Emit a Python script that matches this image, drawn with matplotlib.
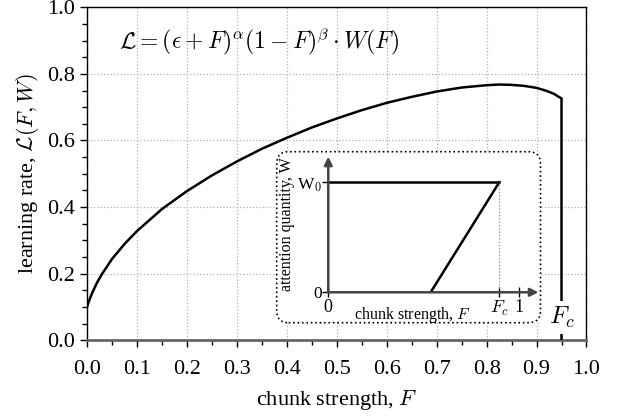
import matplotlib
matplotlib.use('Agg')
import matplotlib.pyplot as plt
from matplotlib.patches import FancyBboxPatch
from matplotlib.ticker import MultipleLocator

# main curve: learning rate vs chunk strength
F_VALUES = [0.0, 0.0025, 0.005, 0.01, 0.02, 0.03, 0.05, 0.075, 0.1, 0.15,
            0.2, 0.25, 0.3, 0.35, 0.4, 0.45, 0.5, 0.55, 0.6, 0.65,
            0.7, 0.75, 0.8, 0.825, 0.85, 0.875, 0.9, 0.92, 0.935, 0.95, 0.95]
L_VALUES = [0.100, 0.112, 0.122, 0.141, 0.173, 0.199, 0.244, 0.289, 0.328, 0.394,
            0.448, 0.495, 0.537, 0.575, 0.608, 0.639, 0.666, 0.691, 0.713, 0.731,
            0.747, 0.759, 0.766, 0.768, 0.767, 0.764, 0.758, 0.749, 0.740, 0.726, 0.0]
F_C = 0.95

# inset: attention quantity W(F)
INSET_FC = 0.895
INSET_W0 = 1.0
INSET_RISE_F = [0.536, 0.895]
INSET_RISE_W = [0.0, 1.0]
INSET_FLAT_F = [0.0, 0.895]
INSET_FLAT_W = [1.0, 1.0]
INSET_XTICKS = [0.0, 0.895, 1.0]
INSET_XLABELS = ['0', '$F_c$', '1']
INSET_YTICKS = [0.0, 1.0]
INSET_YLABELS = ['0', 'W$_0$']

plt.rcParams['font.family'] = 'serif'
plt.rcParams['font.serif'] = ['Liberation Serif', 'DejaVu Serif']
plt.rcParams['mathtext.fontset'] = 'cm'

fig = plt.figure(figsize=(6.18, 4.16), dpi=100)
ax = fig.add_axes([0.1408, 0.182, 0.8082, 0.8005])

ax.plot(F_VALUES, L_VALUES, color='black', lw=1.8, zorder=4, solid_joinstyle='miter')
ax.set_xlim(0, 1)
ax.set_ylim(0, 1)
ax.xaxis.set_major_locator(MultipleLocator(0.1))
ax.xaxis.set_minor_locator(MultipleLocator(0.05))
ax.yaxis.set_major_locator(MultipleLocator(0.2))
ax.yaxis.set_minor_locator(MultipleLocator(0.05))
ax.xaxis.set_major_formatter('{x:.1f}')
ax.yaxis.set_major_formatter('{x:.1f}')
ax.grid(True, which='major', color='#b0b0b0', linestyle=':', linewidth=0.9)
ax.tick_params(which='major', length=5, width=1, labelsize=16, direction='out')
ax.tick_params(which='minor', length=3.5, width=1, direction='out')
ax.tick_params(axis='x', pad=9.5)
ax.tick_params(axis='y', pad=4)
for side in ['top', 'right', 'left']:
    ax.spines[side].set_linewidth(1.0)
    ax.spines[side].set_color('black')
ax.spines['bottom'].set_linewidth(2.0)
ax.spines['bottom'].set_color('#666666')

ax.set_xlabel('chunk strength, $F$', fontsize=16, labelpad=6)
ax.set_ylabel(r'learning rate, $\mathcal{L}(F, W)$', fontsize=16, labelpad=4)

ax.text(0.065, 0.894,
        r'$\mathcal{L} = (\epsilon + F)^{\alpha}(1 - F)^{\beta} \cdot W(F)$',
        fontsize=17, va='center', ha='left')
ax.text(F_C, 0.069, '$F_c$', fontsize=18, ha='center', va='center', zorder=5,
        bbox=dict(boxstyle='square,pad=0.15', facecolor='white', edgecolor='none'))

# rounded dotted frame around the inset (in inches)
frame = FancyBboxPatch((2.767, 0.933), 2.638, 1.71,
                       boxstyle='round,pad=0,rounding_size=0.12',
                       transform=fig.dpi_scale_trans, facecolor='white',
                       edgecolor='black', linestyle=':', linewidth=1.2, zorder=3)
ax.add_patch(frame)

ins = fig.add_axes([0.5312, 0.2974, 0.340, 0.326])
ins.set_facecolor('none')
ins.set_xlim(0, 1.10)
ins.set_ylim(0, 1.233)
for side in ['top', 'right', 'left', 'bottom']:
    ins.spines[side].set_visible(False)

ins.plot(INSET_FLAT_F, INSET_FLAT_W, color='black', lw=1.8)
ins.plot(INSET_RISE_F, INSET_RISE_W, color='black', lw=1.8)
ins.plot([INSET_FC, INSET_FC], [0, INSET_W0], color='#888888', lw=0.9, linestyle=':')
ins.annotate('', xy=(1.10, 0), xytext=(0, 0),
             arrowprops=dict(arrowstyle='-|>', color='#444444', lw=1.8, mutation_scale=12,
                             shrinkA=0, shrinkB=0), annotation_clip=False)
ins.annotate('', xy=(0, 1.233), xytext=(0, 0),
             arrowprops=dict(arrowstyle='-|>', color='#444444', lw=1.8, mutation_scale=12,
                             shrinkA=0, shrinkB=0), annotation_clip=False)

ins.set_xticks(INSET_XTICKS)
ins.set_xticklabels(INSET_XLABELS)
ins.set_yticks(INSET_YTICKS)
ins.set_yticklabels(INSET_YLABELS)
ins.tick_params(axis='x', direction='inout', length=7, width=1, labelsize=13, pad=1)
ins.tick_params(axis='y', direction='out', length=4, width=1, labelsize=12.5, pad=0.5)
ins.set_xlabel('chunk strength, $F$', fontsize=11.5)
ins.xaxis.set_label_coords(0.40, -0.094)
ins.set_ylabel('attention quantity, W', fontsize=11.5)
ins.yaxis.set_label_coords(-0.158, 0.50)

fig.savefig('out.png', dpi=100)
